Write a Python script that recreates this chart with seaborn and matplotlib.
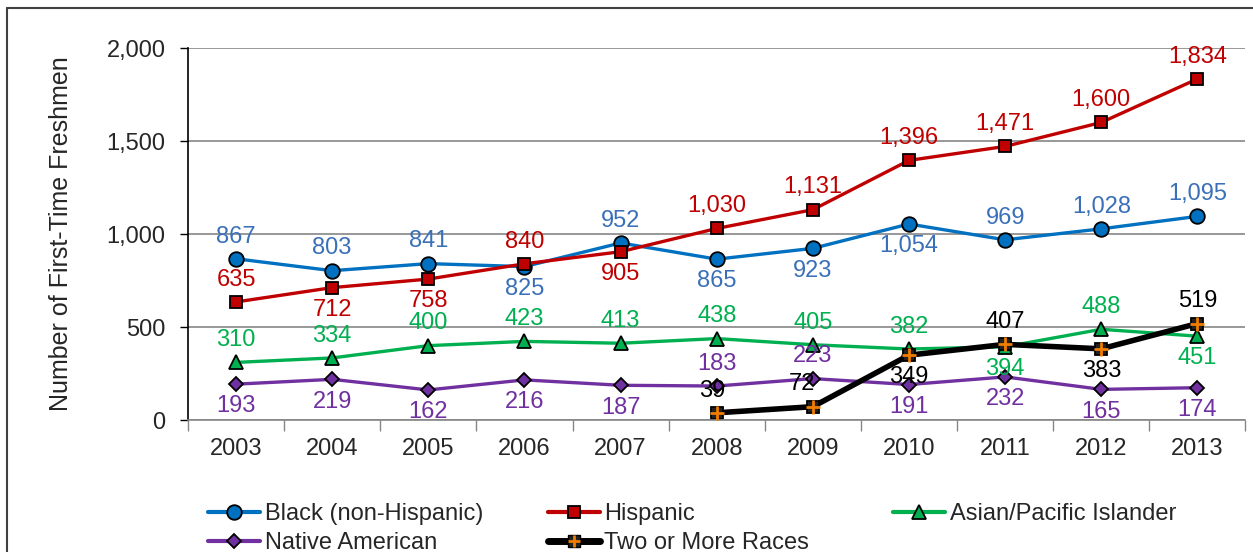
import numpy as np
import pandas as pd
import matplotlib
matplotlib.use("Agg")
import matplotlib.pyplot as plt
import seaborn as sns
from matplotlib.lines import Line2D
from matplotlib.ticker import StrMethodFormatter, FixedLocator
from matplotlib.legend_handler import HandlerTuple

# data
years = [2003, 2004, 2005, 2006, 2007, 2008, 2009, 2010, 2011, 2012, 2013]
black = [867, 803, 841, 825, 952, 865, 923, 1054, 969, 1028, 1095]
hispanic = [635, 712, 758, 840, 905, 1030, 1131, 1396, 1471, 1600, 1834]
asian = [310, 334, 400, 423, 413, 438, 405, 382, 394, 488, 451]
native = [193, 219, 162, 216, 187, 183, 223, 191, 232, 165, 174]
two_years = [2008, 2009, 2010, 2011, 2012, 2013]
two_races = [39, 72, 349, 407, 383, 519]

# which side of the marker the value label sits: 1 above, -1 below
black_side = [1, 1, 1, -1, 1, -1, -1, -1, 1, 1, 1]
hisp_side = [1, -1, -1, 1, -1, 1, 1, 1, 1, 1, 1]
asian_side = [1, 1, 1, 1, 1, 1, 1, 1, -1, 1, -1]
native_side = [-1, -1, -1, -1, -1, 1, 1, -1, -1, -1, -1]
two_side = [1, 1, -1, 1, -1, 1]
# small sideways nudges (points) for the crowded labels
two_dx = [-3, -8, 0, 0, 0, 0]

sns.set_style("white")
plt.rcParams['font.family'] = ['Liberation Sans', 'DejaVu Sans']
plt.rcParams['font.size'] = 17

fig = plt.figure(figsize=(12.53, 5.52), dpi=100)
ax = fig.add_axes([0.150, 0.239, 0.844, 0.674])

series = [
    ("Black (non-Hispanic)", years, black, black_side, None, "#0070C0", "#3A70B8", "o", 10.5, 2.4),
    ("Hispanic", years, hispanic, hisp_side, None, "#C00000", "#C00000", "s", 8, 2.4),
    ("Asian/Pacific Islander", years, asian, asian_side, None, "#00B050", "#00B050", "^", 10, 2.4),
    ("Native American", years, native, native_side, None, "#7030A0", "#7030A0", "D", 7.5, 2.4),
    ("Two or More Races", two_years, two_races, two_side, two_dx, "black", "black", "s", 8, 4),
]

handles = {}
for name, xs, ys, side, dx, col, lab_col, mk, ms, lw in series:
    d = pd.DataFrame({"year": xs, "value": ys})
    two = name == "Two or More Races"
    sns.lineplot(data=d, x="year", y="value", ax=ax, color=col, lw=lw,
                 marker=mk, markersize=ms, markeredgecolor="black",
                 markeredgewidth=1.3, markerfacecolor="#222222" if two else col)
    if two:
        sns.scatterplot(data=d, x="year", y="value", ax=ax, marker="+", s=110,
                        color="#F07C00", linewidth=2, zorder=5)
    if dx is None:
        dx = [0] * len(xs)
    for x, y, s, o in zip(xs, ys, side, dx):
        ax.annotate(f"{y:,}", (x, y), xytext=(o, 16 * s), textcoords="offset points",
                    ha="center", va="center", color=lab_col, fontsize=17, zorder=6)
    if two:
        h = (Line2D([], [], color="black", lw=5, marker="s", markersize=8,
                    markerfacecolor="#222222", markeredgecolor="black"),
             Line2D([], [], ls="none", marker="+", markersize=9, color="#F07C00", mew=2))
    else:
        h = Line2D([], [], color=col, lw=3, marker=mk, markersize=ms,
                   markerfacecolor=col, markeredgecolor="black", markeredgewidth=1.3)
    handles[name] = h

ax.set_xlim(2002.5, 2013.5)
ax.set_ylim(0, 2000)
ax.set_xticks(years)
ax.set_xticklabels([str(y) for y in years])
ax.xaxis.set_minor_locator(FixedLocator(np.arange(2002.5, 2014, 1.0)))
ax.tick_params(axis="x", which="major", length=0, pad=13, labelsize=17)
ax.tick_params(axis="x", which="minor", length=8, width=1, color="#868686", direction="out", bottom=True)
ax.set_yticks([0, 500, 1000, 1500, 2000])
ax.yaxis.set_major_formatter(StrMethodFormatter("{x:,.0f}"))
ax.tick_params(axis="y", length=6, width=1, color="black", pad=10, labelsize=17, left=True)
ax.grid(axis="y", color="#868686", lw=1.2)
ax.set_axisbelow(True)
ax.set_xlabel("")
ax.set_ylabel("Number of First-Time Freshmen", fontsize=18, labelpad=24)
for s in ["top", "right"]:
    ax.spines[s].set_visible(False)
ax.spines["left"].set_color("black")
ax.spines["left"].set_linewidth(1.2)
ax.spines["bottom"].set_color("#868686")
ax.spines["bottom"].set_linewidth(1.2)

cols = [(["Black (non-Hispanic)", "Native American"], 0.166),
        (["Hispanic", "Two or More Races"], 0.437),
        (["Asian/Pacific Islander"], 0.713)]
for names, x0 in cols:
    fig.legend([handles[n] for n in names], names, loc="upper left",
               bbox_to_anchor=(x0, 0.089), frameon=False, fontsize=17,
               handlelength=2.2, handletextpad=0.2, labelspacing=0.3,
               borderpad=0, borderaxespad=0,
               handler_map={tuple: HandlerTuple(ndivide=1)})

# outer frame of the chart
fig.add_artist(Line2D([7 / 1253, 1], [1 - 8 / 552, 1 - 8 / 552], color="#404040", lw=1.5,
                      transform=fig.transFigure))
fig.add_artist(Line2D([7 / 1253, 7 / 1253], [0, 1 - 8 / 552], color="#404040", lw=1.5,
                      transform=fig.transFigure))

fig.savefig("out.png", dpi=100)
